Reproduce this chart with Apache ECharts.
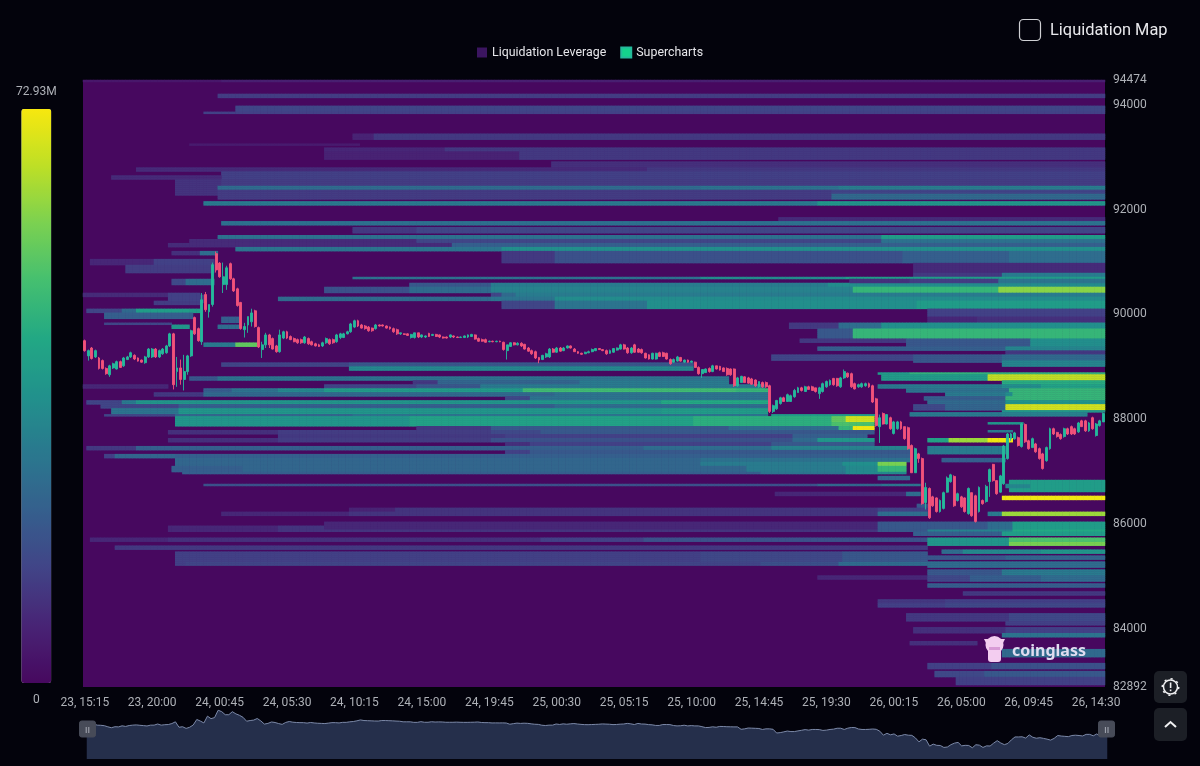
<!DOCTYPE html>
<html><head><meta charset="utf-8">
<script src="https://cdn.jsdelivr.net/npm/echarts@6/dist/echarts.min.js"></script>
<style>html,body{margin:0;padding:0;background:#03030c}#c{width:1200px;height:766px}#c canvas{filter:blur(0.45px)}</style>
</head><body><div id="c"></div>
<script>
const priceMin = 82892, priceMax = 94474, maxLiq = 72.93;
const priceTicks = [82892, 84000, 86000, 88000, 90000, 92000, 94000, 94474];
const slotCount = 288;

const opens = [89500,89210,89360,89190,89170,89120,88970,88850,88980,88960,89100,89020,89140,89190,89220,89170,89130,89080,89190,89190,89340,89190,89250,89270,89400,89630,88910,88980,88760,88910,89210,89940,89730,89480,90380,90050,90190,91160,90980,90570,90570,90970,90680,90490,90230,89710,89800,89860,90070,89750,89330,89420,89610,89540,89400,89290,89550,89670,89580,89540,89520,89520,89460,89540,89480,89440,89420,89400,89460,89520,89520,89480,89560,89560,89630,89670,89760,89880,89800,89780,89760,89740,89730,89800,89800,89780,89760,89730,89710,89630,89630,89630,89560,89560,89650,89570,89570,89640,89600,89620,89610,89570,89570,89570,89590,89570,89560,89560,89570,89580,89610,89540,89520,89520,89480,89490,89480,89490,89470,89310,89390,89460,89420,89450,89430,89360,89310,89290,89180,89140,89190,89190,89340,89280,89360,89310,89360,89400,89340,89290,89260,89250,89270,89290,89310,89350,89330,89310,89260,89280,89320,89340,89420,89360,89270,89420,89340,89330,89260,89230,89150,89150,89270,89270,89260,89140,89090,89110,89180,89090,89130,89090,89090,88990,88870,88890,88970,88910,89020,89010,88980,88970,88960,88960,88640,88700,88810,88790,88770,88750,88620,88700,88700,88640,88150,88200,88300,88410,88340,88340,88430,88510,88600,88530,88620,88620,88600,88490,88530,88620,88660,88780,88780,88620,88790,88880,88870,88680,88620,88620,88640,88680,88640,88390,87860,88110,87910,88030,87730,87820,87950,87860,87840,87500,86980,87340,87250,86410,86680,86520,86500,86240,86300,86610,86810,86910,86450,86520,86500,86200,86600,86540,86240,86450,86430,86810,87140,86830,86610,86770,87250,87630,87630,87650,87480,87900,87590,87460,87530,87440,87340,87210,87440,87820,87750,87710,87670,87820,87860,87820,87760,87970,87970,87780,88030,87690,87880,87950];
const closes = [89310,89310,89160,89310,88970,88970,88870,89020,89060,89100,88990,89170,89190,89270,89150,89110,89090,89190,89340,89340,89190,89310,89340,89400,89630,88660,88980,88760,88910,89210,89690,89630,89500,90280,90090,90190,90950,90850,90720,90720,90890,90680,90450,90170,89730,89770,89960,90030,89770,89380,89420,89610,89420,89340,89290,89610,89670,89550,89520,89480,89460,89460,89570,89440,89420,89400,89390,89460,89540,89440,89460,89610,89630,89630,89670,89820,89880,89780,89740,89730,89690,89690,89800,89780,89780,89740,89730,89670,89630,89650,89620,89600,89620,89650,89570,89610,89590,89580,89620,89580,89570,89550,89550,89610,89570,89560,89570,89590,89610,89620,89530,89490,89490,89470,89490,89480,89490,89480,89330,89420,89460,89420,89450,89400,89340,89300,89250,89170,89130,89220,89250,89340,89280,89360,89300,89360,89400,89360,89290,89260,89240,89280,89290,89330,89350,89330,89310,89250,89310,89350,89360,89420,89340,89270,89360,89280,89280,89270,89170,89150,89260,89260,89200,89200,89150,89060,89140,89190,89110,89130,89090,89110,88990,88870,88950,88960,88910,89020,88960,88940,88910,88850,88850,88640,88790,88820,88700,88690,88670,88640,88720,88620,88620,88150,88260,88360,88410,88340,88470,88450,88550,88600,88550,88620,88570,88550,88530,88600,88680,88720,88740,88660,88640,88790,88910,88810,88620,88580,88660,88680,88680,88620,88330,87880,88030,87910,88090,87820,87950,87950,87820,87630,87440,86980,87440,87250,86390,86700,86120,86350,86240,86450,86600,86880,86940,86350,86580,86330,86240,86680,86160,86050,86700,86390,86720,87040,86830,86580,86920,87490,87720,87720,87740,87500,87910,87570,87440,87630,87380,87250,87060,87460,87820,87720,87670,87630,87820,87720,87720,87720,87930,87860,87780,87930,87820,87910,87970,88110];
const lows = [89290,89120,89140,89170,88950,88950,88850,88810,88960,88950,88980,89000,89130,89170,89130,89100,89080,89060,89170,89170,89170,89170,89230,89250,89380,88570,88620,88660,88550,88850,89190,89610,89480,89420,90050,89940,90150,90800,90700,90410,90470,90660,90430,90150,89710,89560,89650,89770,89750,89360,89170,89360,89360,89330,89270,89270,89530,89530,89510,89470,89440,89440,89440,89420,89410,89390,89380,89380,89440,89420,89440,89460,89530,89550,89620,89650,89740,89760,89730,89710,89670,89670,89710,89770,89770,89730,89710,89650,89610,89610,89610,89590,89540,89540,89550,89550,89550,89570,89590,89570,89550,89540,89540,89550,89550,89550,89550,89550,89550,89570,89520,89480,89480,89460,89470,89470,89470,89470,89310,89140,89380,89410,89410,89380,89330,89290,89230,89150,89070,89130,89170,89170,89270,89270,89290,89300,89350,89350,89290,89250,89230,89250,89260,89280,89300,89330,89300,89230,89250,89270,89310,89330,89330,89250,89250,89270,89270,89250,89160,89140,89140,89140,89190,89190,89140,89040,89080,89100,89100,89080,89080,89080,88980,88850,88790,88890,88890,88900,88950,88930,88910,88830,88830,88620,88620,88700,88700,88680,88660,88620,88600,88600,88600,88120,88120,88180,88280,88340,88340,88340,88410,88510,88530,88530,88570,88550,88510,88390,88510,88600,88640,88640,88620,88600,88770,88790,88600,88570,88600,88600,88620,88600,88310,87860,87550,87900,87900,87800,87710,87800,87800,87610,87420,86980,86980,87170,86370,86280,86100,86330,86220,86220,86280,86600,86790,86330,86430,86310,86220,86180,86140,86030,86220,86370,86410,86520,86810,86560,86600,86750,87230,87590,87610,87480,87460,87550,87420,87460,87360,87230,87040,87190,87420,87700,87650,87610,87650,87700,87700,87700,87740,87860,87760,87760,87800,87670,87860,87950];
const highs = [89520,89330,89380,89330,89190,89140,88990,89040,89080,89120,89120,89190,89210,89290,89240,89180,89140,89210,89360,89360,89360,89330,89360,89420,89650,89650,89190,89140,89230,89230,89710,89960,89750,90410,90430,90190,90990,91200,91000,90990,90930,90990,90700,90510,90240,89840,89960,90110,90090,89770,89480,89650,89630,89560,89420,89710,89690,89690,89600,89560,89540,89540,89590,89560,89500,89460,89440,89480,89560,89540,89540,89630,89650,89650,89690,89840,89900,89900,89820,89800,89780,89750,89820,89810,89810,89790,89770,89750,89730,89650,89640,89640,89630,89650,89650,89620,89600,89650,89630,89630,89620,89580,89580,89620,89600,89580,89580,89600,89620,89630,89620,89560,89540,89540,89500,89500,89500,89500,89480,89420,89470,89470,89470,89470,89440,89380,89330,89310,89190,89230,89270,89360,89360,89380,89380,89380,89410,89410,89360,89300,89270,89290,89310,89350,89360,89360,89340,89330,89330,89360,89370,89440,89440,89380,89380,89440,89360,89350,89270,89240,89270,89270,89290,89290,89270,89160,89160,89210,89190,89140,89140,89120,89100,89010,88950,88970,88990,89040,89020,89020,88990,88990,88970,88970,88810,88830,88820,88810,88790,88760,88720,88720,88720,88660,88280,88370,88430,88430,88490,88470,88580,88620,88620,88640,88640,88640,88600,88620,88700,88740,88760,88790,88790,88810,88950,88890,88890,88700,88680,88700,88700,88700,88660,88410,88090,88130,88090,88050,87970,87970,87970,87860,87860,87520,87460,87360,87270,86790,86700,86540,86510,86470,86620,86910,86960,86930,86600,86540,86510,86700,86600,86560,86720,86470,86750,87060,87150,86830,86940,87510,87740,87740,87760,87670,87930,87920,87610,87650,87550,87460,87360,87480,87840,87840,87760,87730,87840,87840,87880,87840,87950,87990,87990,87950,88050,87930,87990,88130];

// liquidation bands: [price high, price low, [slot, value (M), slot, value, ...]]
const upperBands = [
[94474,94440,[0,4]],
[94460,94420,[39,6]],
[94220,94150,[38,13]],
[93980,93885,[43,15]],
[93885,93830,[34,14]],
[93430,93340,[76,7,82,12]],
[93265,93220,[30,5,78,0]],
[93180,93120,[68,8,102,12]],
[93120,92950,[68,7,123,12]],
[92910,92815,[132,10]],
[92800,92720,[15,9,159,12]],
[92720,92570,[39,14]],
[92650,92570,[8,9,39,14]],
[92570,92285,[26,11,39,13]],
[92475,92380,[38,26,174,28,213,31]],
[92380,92190,[38,13,211,15]],
[92320,92190,[211,25]],
[92160,92090,[34,30,207,38]],
[91860,91770,[196,9]],
[91770,91690,[39,27,250,28]],
[91670,91560,[76,12,94,15]],
[91520,91445,[38,27,225,40]],
[91445,91370,[30,9,94,15,225,27]],
[91370,91290,[24,9,104,22]],
[91290,91215,[43,28,118,36]],
[91195,90985,[118,12,133,18,231,22,261,26]],
[91215,91120,[25,10,33,26,38,0]],
[91044,90950,[2,8,20,14,37,0]],
[90950,90800,[12,13,37,0]],
[90985,90800,[234,9]],
[90800,90720,[234,12,259,30]],
[90720,90660,[76,27,174,35,215,40]],
[90660,90570,[216,10,233,13,258,28]],
[90660,90565,[25,16,29,26,37,0]],
[90585,90510,[92,20,115,30,210,35]],
[90510,90415,[68,18,92,25,115,32,217,48,258,60]],
[90415,90340,[115,15,118,25,122,30]],
[90410,90350,[0,9,24,14,33,0]],
[90380,90225,[24,14,34,0]],
[90340,90260,[55,25,115,28,133,35]],
[90260,90090,[118,15,133,28,159,36,235,40]],
[90260,90190,[20,13,33,0]]
];
const leftBands = [
[90090,90030,[1,15,11,25,15,40,33,0]],
[90030,89900,[6,22,31,0]],
[89840,89800,[6,15,25,0]],
[89790,89710,[25,38,30,0]],
[89940,89860,[39,22,44,0]],
[89790,89710,[38,26,44,0]],
[89460,89390,[34,30,43,55,49,0]]
];
const midBands = [
[89080,89000,[39,15,75,20,172,0]],
[89000,88925,[75,34,172,0]],
[88830,88755,[30,20,38,28,182,0]],
[88755,88680,[93,12,100,24,140,30,182,0]],
[88680,88600,[0,8,24,0,68,15,94,20,112,30,192,0]],
[88600,88530,[34,22,42,28,55,34,68,40,124,50,184,48,193,0]],
[88530,88450,[20,12,34,25,133,28,193,0]],
[88430,88355,[119,16,126,28,193,0]],
[88355,88280,[1,15,11,30,15,38,163,44,193,0]],
[88280,88200,[5,15,27,22,133,26,193,0]],
[88200,88110,[8,28,27,38,163,40,193,0]],
[88110,88050,[6,15,26,24,76,28,193,0,194,40,224,0]],
[88050,87955,[26,38,92,42,172,46,211,55,215,68,223,0]],
[87955,87880,[26,38,92,42,172,46,211,52,223,0]],
[87880,87800,[94,12,115,20,182,26,213,48,217,72,223,0]],
[87785,87725,[24,10,55,13,115,16,129,20,223,0]],
[87725,87650,[55,12,119,14,200,22,221,0]],
[87650,87575,[24,10,55,13,115,18,200,25,207,38,223,0]],
[87575,87495,[119,10,126,14,194,20,223,0]],
[87480,87400,[1,12,15,22,158,26,194,32,233,0]],
[87400,87345,[119,14,126,20,233,0]],
[87325,87250,[6,14,9,24,26,22,233,0]],
[87250,87170,[26,24,174,27,233,0]],
[87170,87095,[26,24,174,30,214,36,224,58,232,0]],
[87095,87000,[25,22,45,24,187,30,215,34,224,48,232,0]],
[87000,86945,[28,22,191,28,215,34,232,0]],
[86925,86850,[224,26,233,0]],
[86770,86715,[34,18,207,24,225,28,236,0]],
[86620,86545,[195,8,232,26,236,0]],
[86372,86315,[235,20,238,0]],
[86295,86220,[75,7,88,11,224,14,238,0]],
[86220,86145,[39,8,75,11,224,26,238,0]],
[85970,85875,[24,8,55,11,224,0]],
[86045,85875,[68,8,224,20,255,26,262,40]],
[85875,85840,[24,8,55,11,224,20,238,32,262,44]],
[85742,85666,[2,8,24,10,129,14,158,18,238,0]],
[85590,85495,[9,12,238,0]],
[85475,85190,[26,14,174,16,214,20,238,0]],
[85266,85190,[29,15,191,18,213,26,238,0]]
];
const rightBands = [
[90090,89957,[238,14]],
[89957,89860,[238,8,252,10]],
[89860,89709,[199,12,213,26,225,36]],
[89709,89556,[207,20,217,48]],
[89556,89480,[202,12,232,20,267,36]],
[89480,89385,[232,20,267,36]],
[89385,89308,[207,22,260,33]],
[89308,89232,[260,12]],
[89232,89137,[194,15,234,20,259,25]],
[89137,89090,[234,20,259,33]],
[89090,89003,[259,33]],
[88908,88851,[224,40,233,47]],
[88851,88755,[225,40,255,66]],
[88755,88679,[259,45]],
[88679,88603,[224,30,259,36,270,42]],
[88603,88527,[232,28,261,48]],
[88527,88431,[243,30,260,36,262,48]],
[88431,88355,[237,22,260,48]],
[88355,88279,[238,25,260,38]],
[88279,88183,[234,16,243,24,260,68]],
[88183,88126,[259,38]],
[88126,88050,[233,30,259,32,283,0]],
[87955,87897,[255,38,265,0]],
[87802,87745,[255,30,262,0]],
[87650,87573,[238,42,244,62,255,72,262,0]],
[87478,87344,[238,30,260,0]],
[87249,87172,[242,22,260,0]],
[86848,86620,[261,40]],
[86772,86700,[260,33,267,40]],
[86543,86467,[259,72]],
[86219,86143,[255,30,259,62]],
[85838,85761,[234,22,259,40]],
[85742,85570,[238,38,261,52]],
[85665,85590,[261,58]],
[85495,85418,[242,26,248,34,270,38]],
[85400,85323,[238,20,260,24]],
[85266,85170,[238,26]],
[85151,85018,[238,20,259,30]],
[85000,84940,[207,8,238,16,250,22,270,26]],
[84940,84903,[238,16,250,22,270,26]],
[84884,84808,[238,22]],
[84720,84640,[248,12]],
[84560,84503,[224,12,243,14]],
[84503,84408,[224,14,243,16]],
[84312,84140,[232,12,261,16]],
[84140,84085,[260,14]],
[84026,83930,[234,10,260,14]],
[83930,83854,[259,28]],
[83759,83702,[233,10,252,0]],
[83607,83473,[259,25]],
[83359,83225,[238,14,256,18]],
[83206,83073,[240,16,254,20]],
[83073,82939,[246,14]]
];

// axes
const timeLabels = [];
{ let d = 23, m = 15 * 60 + 15;
  for (let i = 0; i < slotCount; i++) {
    const h = Math.floor(m / 60), mm = m % 60;
    timeLabels.push(d + ', ' + String(h).padStart(2, '0') + ':' + String(mm).padStart(2, '0'));
    m += 15; if (m >= 1440) { m -= 1440; d++; }
  } }
const binCount = 305, binStep = (priceMax - priceMin) / binCount;
const priceBins = Array.from({ length: binCount }, (_, i) => Math.round(priceMin + i * binStep));

const cells = new Map();
[upperBands, leftBands, midBands, rightBands].forEach(group => group.forEach(([hi, lo, stops]) => {
  const r0 = Math.max(0, Math.round((lo - priceMin) / binStep));
  const r1 = Math.min(binCount, Math.max(r0 + 1, Math.round((hi - priceMin) / binStep)));
  for (let k = 0; k < stops.length; k += 2) {
    const s = stops[k], v = stops[k + 1], e = k + 2 < stops.length ? stops[k + 2] : slotCount;
    if (!v) continue;
    for (let x = s; x < e; x++) for (let r = r0; r < r1; r++) cells.set(x + '_' + r, [x, r, v]);
  }
}));
const heatData = Array.from(cells.values());
const candleData = opens.map((o, i) => [o, closes[i], lows[i], highs[i]]);

const txt = '#aeb1b7';
const FONT = 'Roboto';
const chart = echarts.init(document.getElementById('c'), null, { renderer: 'canvas' });
chart.setOption({
  backgroundColor: '#03030c',
  animation: false,
  textStyle: { fontFamily: FONT },
  legend: {
    top: 41.5, left: 472, selectedMode: false, itemWidth: 10, itemHeight: 10, itemGap: 14,
    textStyle: { color: '#e6e6ea', fontSize: 12.4, fontFamily: FONT },
    data: [
      { name: 'Liquidation Leverage', icon: 'rect', itemStyle: { color: '#3b1560' } },
      { name: 'Supercharts', icon: 'rect', itemStyle: { color: '#14d38c' } }
    ]
  },
  grid: { left: 83, right: 95, top: 80, height: 607, show: true, backgroundColor: '#47085f', borderWidth: 0 },
  xAxis: [{
    type: 'category', data: timeLabels, boundaryGap: true,
    axisLine: { show: false }, axisTick: { show: false }, splitLine: { show: false },
    axisLabel: { color: txt, fontSize: 12, margin: 10, interval: 18, hideOverlap: false }
  }],
  yAxis: [
    { type: 'category', data: priceBins, show: false, boundaryGap: true },
    { type: 'value', min: priceMin, max: priceMax, position: 'right', scale: true,
      axisLine: { show: false }, axisTick: { show: false }, splitLine: { show: false },
      axisLabel: { color: txt, fontSize: 12, margin: 8, customValues: priceTicks, showMinLabel: true, showMaxLabel: true,
        formatter: v => String(v), padding: [6, 0, 0, 0] } }
  ],
  visualMap: {
    type: 'continuous', seriesIndex: 0, dimension: 2, min: 0, max: maxLiq, calculable: false, realtime: false,
    left: 1, top: 71, itemWidth: 30, itemHeight: 574, text: ['72.93M', '0'], textGap: 11,
    textStyle: { color: txt, fontSize: 12 },
    inRange: { color: ['#47085f', '#482475', '#414487', '#355f8d', '#2a788e', '#21918c', '#22a884', '#44bf70', '#7ad151', '#bddf26', '#f7e80f'] }
  },
  dataZoom: [{
    type: 'slider', xAxisIndex: 0, filterMode: 'none', start: 0, end: 100, left: 84, width: 1021, top: 699, height: 60,
    backgroundColor: 'transparent', borderColor: 'transparent', fillerColor: 'transparent',
    showDetail: false, brushSelect: false, moveHandleSize: 0, zoomLock: false,
    handleIcon: 'path://M4 0H26A4 4 0 0 1 30 4V26A4 4 0 0 1 26 30H4A4 4 0 0 1 0 26V4A4 4 0 0 1 4 0Z',
    handleSize: 16, handleStyle: { color: '#474b58', borderColor: '#474b58' },
    dataBackground: { lineStyle: { color: '#7c89a8', width: 1 }, areaStyle: { color: '#252f4b', opacity: 1 } },
    selectedDataBackground: { lineStyle: { color: '#7c89a8', width: 1 }, areaStyle: { color: '#252f4b', opacity: 1 } }
  }],
  series: [
    { name: 'Liquidation Leverage', type: 'heatmap', xAxisIndex: 0, yAxisIndex: 0, data: heatData,
      progressive: 0, silent: true, emphasis: { disabled: true } },
    { name: 'Supercharts', type: 'candlestick', xAxisIndex: 0, yAxisIndex: 1, data: candleData, barWidth: 2.4, z: 5,
      progressive: 0, large: false, silent: true,
      itemStyle: { color: '#25b99b', color0: '#f2527a', borderColor: '#25b99b', borderColor0: '#f2527a', borderWidth: 0.9 } }
  ],
  graphic: [
    { type: 'rect', shape: { x: 1019.5, y: 19.5, width: 21, height: 21, r: 4 }, style: { fill: 'transparent', stroke: '#cfd0d4', lineWidth: 1.2 }, silent: true },
    { type: 'text', style: { x: 1050, y: 31, text: 'Liquidation Map', fill: '#e8e8ec', font: '16.4px ' + FONT, textVerticalAlign: 'middle' }, silent: true },
    // slider grips
    { type: 'rect', shape: { x: 85.7, y: 727, width: 1, height: 6 }, style: { fill: '#a8abb5' }, z: 50, silent: true },
    { type: 'rect', shape: { x: 88.3, y: 727, width: 1, height: 6 }, style: { fill: '#a8abb5' }, z: 50, silent: true },
    { type: 'rect', shape: { x: 1104.9, y: 727, width: 1, height: 6 }, style: { fill: '#a8abb5' }, z: 50, silent: true },
    { type: 'rect', shape: { x: 1107.5, y: 727, width: 1, height: 6 }, style: { fill: '#a8abb5' }, z: 50, silent: true },
    // watermark
    { type: 'text', z: 60, silent: true, style: { x: 1012, y: 651, text: 'coinglass', fill: '#e0dcf0', font: 'bold 16px "Noto Sans"', textVerticalAlign: 'middle' } },
    { type: 'circle', z: 60, silent: true, shape: { cx: 994.5, cy: 645, r: 9 }, style: { fill: '#f3cdf0' } },
    { type: 'rect', z: 60, silent: true, shape: { x: 988, y: 648, width: 13, height: 14, r: 3 }, style: { fill: '#f3cdf0' } },
    { type: 'rect', z: 60, silent: true, shape: { x: 989, y: 647, width: 11, height: 3 }, style: { fill: '#d89bd6' } },
    { type: 'polygon', z: 60, silent: true, shape: { points: [[984, 639], [990, 639], [987, 645]] }, style: { fill: '#f3cdf0' } },
    { type: 'polygon', z: 60, silent: true, shape: { points: [[999, 639], [1005, 639], [1002, 645]] }, style: { fill: '#f3cdf0' } },
    // side buttons
    { type: 'rect', silent: true, shape: { x: 1154, y: 671, width: 33, height: 32, r: 5 }, style: { fill: '#1c1f26' } },
    { type: 'circle', silent: true, shape: { cx: 1170.5, cy: 687, r: 7 }, style: { fill: 'transparent', stroke: '#f0f0f2', lineWidth: 1.5 } },
    { type: 'circle', silent: true, shape: { cx: 1170.5, cy: 687, r: 8.2 }, style: { fill: 'transparent', stroke: '#f0f0f2', lineWidth: 1.6, lineDash: [2.2, 4.2] } },
    { type: 'rect', silent: true, shape: { x: 1169.8, y: 682.5, width: 1.6, height: 5.5 }, style: { fill: '#f0f0f2' } },
    { type: 'rect', silent: true, shape: { x: 1169.8, y: 689.5, width: 1.6, height: 1.7 }, style: { fill: '#f0f0f2' } },
    { type: 'rect', silent: true, shape: { x: 1154, y: 708, width: 33, height: 33, r: 5 }, style: { fill: '#1c1f26' } },
    { type: 'polyline', silent: true, shape: { points: [[1165, 727], [1170.5, 722], [1176, 727]] }, style: { fill: 'none', stroke: '#f0f0f2', lineWidth: 2 } }
  ]
});
</script></body></html>
